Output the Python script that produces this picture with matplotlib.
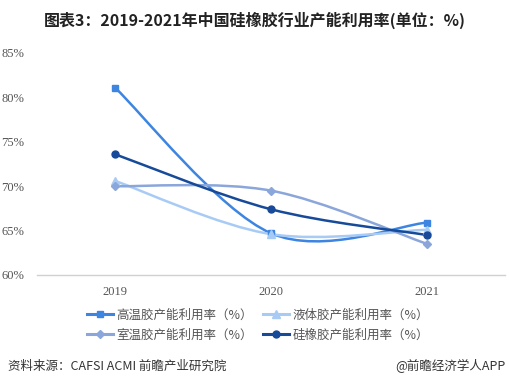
import matplotlib
matplotlib.use("Agg")
import matplotlib.pyplot as plt
from matplotlib.path import Path
from matplotlib.patches import PathPatch
from matplotlib.lines import Line2D
import numpy as np

plt.rcParams['font.family'] = ['Noto Sans CJK SC', 'DejaVu Sans']

years = ["2019", "2020", "2021"]
series_names = ["高温胶产能利用率（%）", "液体胶产能利用率（%）", "室温胶产能利用率（%）", "硅橡胶产能利用率（%）"]
gaowen = [81.1, 64.7, 65.9]
yeti = [70.6, 64.6, 65.1]
shiwen = [70.0, 69.5, 63.5]
guixiangjiao = [73.6, 67.4, 64.5]
y_ticks = [60, 65, 70, 75, 80, 85]

series = [gaowen, yeti, shiwen, guixiangjiao]
colors = ["#3d85e0", "#a8cbf5", "#8aa6db", "#174a99"]
markers = ["s", "^", "D", "o"]
msizes = [4.5, 5.5, 4.0, 5.0]

W, H = 509, 389
fig = plt.figure(figsize=(W / 100, H / 100), dpi=100)
ax = fig.add_axes([37 / W, 1 - 275 / H, (505 - 37) / W, (275 - 53) / H])
ax.set_xlim(-0.5, 2.5)
ax.set_ylim(60, 85)


def smooth_path(xs, ys):
    # Catmull-Rom style cubic Bezier smoothing (tension 1/6)
    P = np.column_stack([np.array(xs, float), np.array(ys, float)])
    n = len(P)
    verts = [tuple(P[0])]
    codes = [Path.MOVETO]
    for i in range(n - 1):
        p_prev = P[i - 1] if i > 0 else P[i]
        p_next2 = P[i + 2] if i + 2 < n else P[i + 1]
        c1 = P[i] + (P[i + 1] - p_prev) / 6.0
        c2 = P[i + 1] - (p_next2 - P[i]) / 6.0
        verts += [tuple(c1), tuple(c2), tuple(P[i + 1])]
        codes += [Path.CURVE4] * 3
    return Path(verts, codes)


xs = np.arange(len(years))
handles = []
for vals, c, m, ms, name in zip(series, colors, markers, msizes, series_names):
    p = smooth_path(xs, vals)
    ax.add_patch(PathPatch(p, facecolor="none", edgecolor=c, lw=1.8, zorder=3))
    ax.plot(xs, vals, linestyle="none", marker=m, ms=ms, color=c, zorder=4)
    handles.append(Line2D([], [], color=c, lw=2.2, marker=m, ms=ms, label=name))

ax.set_xticks(xs)
ax.set_xticklabels(years)
ax.set_yticks(y_ticks)
ax.set_yticklabels([f"{v}%" for v in y_ticks])
for lab in ax.get_xticklabels() + ax.get_yticklabels():
    lab.set_family(["Liberation Serif", "DejaVu Serif"])
    lab.set_fontsize(9)
    lab.set_color("#555555")
ax.tick_params(axis="both", length=0)
ax.tick_params(axis="y", pad=9)
ax.tick_params(axis="x", pad=8)
for s in ["top", "right", "left"]:
    ax.spines[s].set_visible(False)
ax.spines["bottom"].set_color("#d0d0d0")
ax.spines["bottom"].set_linewidth(1.0)

# legend: row 1 = 高温, 液体; row 2 = 室温, 硅橡胶 (matplotlib fills column-wise)
order = [0, 2, 1, 3]
fig.legend(handles=[handles[i] for i in order], ncol=2, loc="center",
           bbox_to_anchor=(258 / W, 1 - 325 / H),
           frameon=False, fontsize=9, labelcolor="#555555", handlelength=2.1,
           handletextpad=0.25, columnspacing=0.8, labelspacing=0.55)

fig.text(255 / W, 1 - 20 / H, "图表3：2019-2021年中国硅橡胶行业产能利用率(单位：%)",
         ha="center", va="center", fontsize=11.5, fontweight="bold", color="#222222")
fig.text(8 / W, 1 - 366 / H, "资料来源：CAFSI ACMI 前瞻产业研究院", ha="left", va="center",
         fontsize=9, color="#333333")
fig.text(506 / W, 1 - 366 / H, "@前瞻经济学人APP", ha="right", va="center",
         fontsize=9, color="#333333")

fig.savefig("out.png", dpi=100)
